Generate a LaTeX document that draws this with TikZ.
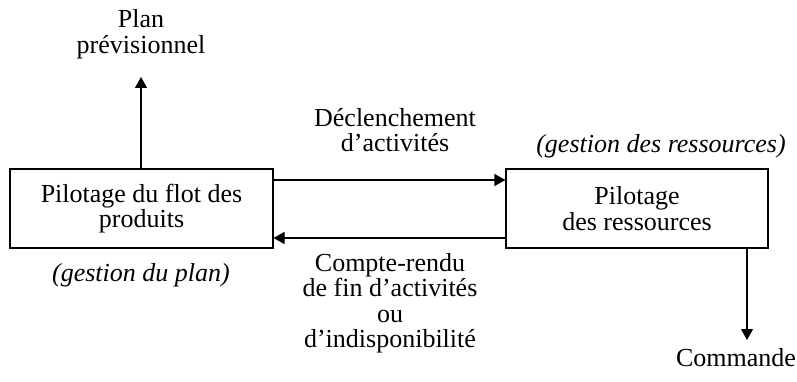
\documentclass[tikz,border=0pt]{standalone}
\usepackage{fontspec}
\setmainfont{Liberation Serif}
\usetikzlibrary{calc,arrows.meta}

\begin{document}
\begin{tikzpicture}[
    x=1pt, y=-1pt,
    every node/.style={font=\fontsize{26}{25.5}\selectfont, align=center, inner sep=0pt},
    bloc/.style={draw, line width=1.1pt, minimum height=79pt},
    fleche/.style={line width=1.1pt, -{Triangle[length=11pt,width=12pt]}},
    remarque/.style={font=\fontsize{26}{25.5}\selectfont\itshape}
  ]
  \useasboundingbox (0,0) rectangle (797,382);

  % the two blocks
  \node[bloc, minimum width=263pt] (pilprod) at (141.5,208.5) {Pilotage du flot des\\produits};
  \node[bloc, minimum width=262pt] (pilres) at (637,208.5) {Pilotage\\des ressources};

  % annotations below and above the blocks
  \node[remarque] (gplan) at (141,275) {(gestion du plan)};
  \node[remarque] (gres) at (661,146) {(gestion des ressources)};

  % plan at upper left
  \node (plan) at (141,34) {Plan\\prévisionnel};
  \coordinate (planbas) at (141,77);
  \draw[fleche] (pilprod.north -| planbas) -- (planbas);

  % exchanges between the blocks
  \coordinate (haut) at (0,180);
  \coordinate (bas) at (0,238);
  \draw[fleche] (pilprod.east |- haut) -- (pilres.west |- haut);
  \draw[fleche] (pilres.west |- bas) -- (pilprod.east |- bas);
  \node (decl) at (395,130) {Déclenchement\\d’activités};
  \node (cr) at (390,303) {Compte-rendu\\de fin d’activités\\ou\\d’indisponibilité};

  % command at lower right
  \node (cmd) at (736,358) {Commande};
  \coordinate (cmdhaut) at (747,340);
  \draw[fleche] (pilres.south -| cmdhaut) -- (cmdhaut);
\end{tikzpicture}
\end{document}
